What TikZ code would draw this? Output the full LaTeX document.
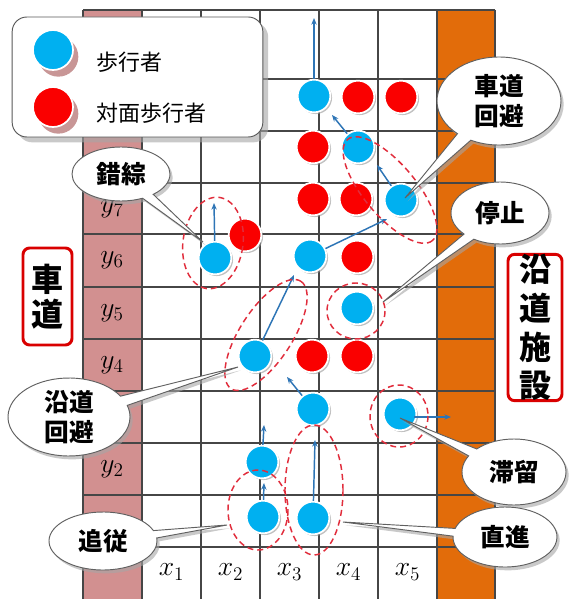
\documentclass[tikz,border=0pt]{standalone}
\usepackage{fontspec}
\newfontfamily\jp{Noto Sans CJK JP}
\usetikzlibrary{arrows.meta,shapes.geometric,shapes.callouts,shadows}
\definecolor{pblue}{RGB}{0,176,240}
\definecolor{pred}{RGB}{250,0,0}
\definecolor{pinkcol}{RGB}{210,144,144}
\definecolor{orangecol}{RGB}{226,108,10}
\definecolor{gridcol}{RGB}{70,70,70}
\definecolor{arrowblue}{RGB}{46,117,182}
\definecolor{grpred}{RGB}{225,45,60}
\definecolor{legshadow}{RGB}{200,150,150}
\tikzset{
  gridl/.style={gridcol, line width=0.9pt},
  ped/.style={circle, fill=pblue, draw=white, line width=1.3pt, minimum size=24.5pt, inner sep=0pt,
    drop shadow={shadow xshift=1.3pt, shadow yshift=-1.3pt, fill=black!40, opacity=.6}},
  opp/.style={ped, fill=pred},
  legped/.style={circle, fill=pblue, draw=white, line width=1.3pt, minimum size=30pt, inner sep=0pt,
    drop shadow={shadow xshift=4pt, shadow yshift=-5pt, fill=legshadow, opacity=1}},
  legopp/.style={legped, fill=pred},
  mv/.style={arrowblue, line width=1.1pt, -{Stealth[length=5pt,width=4pt]}},
  grp/.style={grpred, line width=1.1pt, dash pattern=on 4.5pt off 3pt},
  bubble/.style={ellipse callout, draw=gray!75!black, fill=white, line width=0.7pt, inner sep=0pt,
    font=\jp\bfseries\fontsize{18.5}{23}\selectfont, align=center,
    drop shadow={shadow xshift=2pt, shadow yshift=-2.5pt, fill=black!35, opacity=.6}},
  lbl/.style={inner sep=0pt, font=\fontsize{20.74}{24}\selectfont},
  sidebox/.style={draw=red!85!black, line width=2.2pt, rounded corners=5pt, fill=white, inner sep=0pt,
    align=center, font=\jp\bfseries\fontsize{24}{26}\selectfont},
}
\begin{document}
\begin{tikzpicture}[x=0.75pt,y=-0.75pt]
\useasboundingbox (0,0) rectangle (569,599);
\fill[white] (0,0) rectangle (569,599);
% strips
\fill[pinkcol] (83,10) rectangle (142,599);
\fill[orangecol] (437,10) rectangle (495,599);
% grid
\foreach \x in {83,142,201,260,319,378,437,495} \draw[gridl] (\x,10) -- (\x,599);
\foreach \y in {10,79,131,183,234,287,339,391,443,495,547} \draw[gridl] (83,\y) -- (495,\y);
% axis labels (those left visible by the callouts)
\foreach \i/\y in {2/469,4/365,5/313,6/260,7/209}
  \node[lbl] (y\i) at (112,\y) {$y_{\i}$};
\foreach \i/\x in {1/171.5,2/230.5,3/289.5,4/348.5,5/407.5}
  \node[lbl] (x\i) at (\x,572) {$x_{\i}$};
% pedestrians
\node[ped] (b1) at (314,96) {};
\node[ped] (b2) at (358,147) {};
\node[ped] (b3) at (401,200) {};
\node[ped] (b4) at (215,258) {};
\node[ped] (b5) at (310,256) {};
\node[ped] (b6) at (357,308) {};
\node[ped] (b7) at (255,356) {};
\node[ped] (b8) at (313,409) {};
\node[ped] (b9) at (400,414) {};
\node[ped] (b10) at (262,462) {};
\node[ped] (b11) at (263,517) {};
\node[ped] (b12) at (313,518) {};
% opposite pedestrians
\node[opp] (r1) at (358,97) {};
\node[opp] (r2) at (401,97) {};
\node[opp] (r3) at (313,147) {};
\node[opp] (r4) at (313,199) {};
\node[opp] (r5) at (356,199) {};
\node[opp] (r6) at (245,235) {};
\node[opp] (r7) at (357,257) {};
\node[opp] (r8) at (312,356) {};
\node[opp] (r9) at (357,356) {};
% arrow ends
\coordinate (e1) at (314,18);
\coordinate (e2) at (332,115);
\coordinate (e3) at (377,165);
\coordinate (e4) at (214,203);
\coordinate (e5) at (387,219);
\coordinate (e7) at (294,275);
\coordinate (e8) at (287,377);
\coordinate (e9) at (451,417);
\coordinate (e10) at (264,425);
\coordinate (e11) at (264,483);
\coordinate (e12) at (315,440);
\coordinate (s9) at (414,417);
\draw[mv] (b1) -- (e1);
\draw[mv] (b2) -- (e2);
\draw[mv] (b3) -- (e3);
\draw[mv] (b4) -- (e4);
\draw[mv] (b5) -- (e5);
\draw[mv] (b7) -- (e7);
\draw[mv] (b8) -- (e8);
\draw[mv] (s9) -- (e9);
\draw[mv] (b10) -- (e10);
\draw[mv] (b11) -- (e11);
\draw[mv] (b12) -- (e12);
% groups
\coordinate (g1) at (213,243);
\coordinate (g2) at (390,190);
\coordinate (g3) at (266,335);
\coordinate (g4) at (356,311);
\coordinate (g5) at (399,416);
\coordinate (g6) at (258,510);
\coordinate (g7) at (314,490);
\draw[grp, rotate around={-8:(g1)}] (g1) ellipse [x radius=30, y radius=46];
\draw[grp, rotate around={-50:(g2)}] (g2) ellipse [x radius=66, y radius=26];
\draw[grp, rotate around={57:(g3)}] (g3) ellipse [x radius=64, y radius=26];
\draw[grp] (g4) ellipse [x radius=29, y radius=28];
\draw[grp] (g5) ellipse [x radius=29, y radius=31];
\draw[grp] (g6) ellipse [x radius=30, y radius=40];
\draw[grp] (g7) ellipse [x radius=29, y radius=65];
% callout tips
\coordinate (t1) at (203,242);
\coordinate (t2) at (405,198);
\coordinate (t3) at (383,302);
\coordinate (t4) at (238,367);
\coordinate (t5) at (227,525);
\coordinate (t6) at (400,418);
\coordinate (t7) at (343,522);
\node[bubble, minimum width=73.5pt, minimum height=40.5pt, callout absolute pointer={(t1)}] (c1) at (121,174) {錯綜};
\node[bubble, minimum width=93pt, minimum height=66pt, callout absolute pointer={(t2)}] (c2) at (499,101) {車道\\回避};
\node[bubble, minimum width=73.5pt, minimum height=46.5pt, callout absolute pointer={(t3)}] (c3) at (500,213) {停止};
\node[bubble, minimum width=91.5pt, minimum height=58.5pt, callout absolute pointer={(t4)}] (c4) at (69,417) {沿道\\回避};
\node[bubble, minimum width=81pt, minimum height=43.5pt, callout absolute pointer={(t5)}] (c5) at (103,541) {追従};
\node[bubble, minimum width=78pt, minimum height=49.5pt, callout absolute pointer={(t6)}] (c6) at (514,472) {滞留};
\node[bubble, minimum width=78pt, minimum height=45pt, callout absolute pointer={(t7)}] (c7) at (505,537) {直進};
% legend
\node[draw=gray!70!black, line width=0.7pt, fill=white, rounded corners=11pt, minimum width=188pt, minimum height=90pt,
  inner sep=0pt, drop shadow={shadow xshift=4pt, shadow yshift=-4pt, fill=black!35, opacity=.6}] (leg) at (137.5,77) {};
\node[legped] (lb) at (53,50) {};
\node[legopp] (lr) at (53,107) {};
\node[anchor=west, inner sep=0pt, font=\jp\fontsize{16.5}{18}\selectfont] (lbt) at (96,62) {歩行者};
\node[anchor=west, inner sep=0pt, font=\jp\fontsize{16.5}{18}\selectfont] (lrt) at (96,113) {対面歩行者};
% side labels
\node[sidebox, minimum width=36.75pt, minimum height=72.75pt] (road) at (47.5,296.5) {車\\道};
\node[sidebox, minimum width=40.5pt, minimum height=108.75pt, font=\jp\bfseries\fontsize{24}{29}\selectfont] (facility) at (535,327.5) {沿\\道\\施\\設};
\end{tikzpicture}
\end{document}
